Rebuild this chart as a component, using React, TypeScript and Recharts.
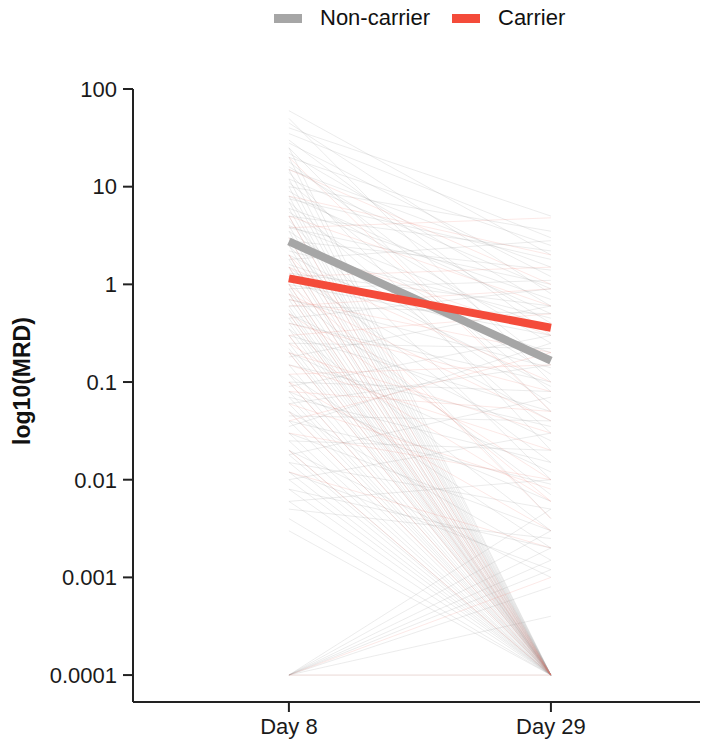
import { Line, LineChart, XAxis, YAxis } from 'recharts';

const days = ['Day 8', 'Day 29'];
const yTicks = [0.0001, 0.001, 0.01, 0.1, 1, 10, 100];

// [day 8, day 29] MRD per patient
const nonCarrierPairs: [number, number][] = [
  [0.003, 1e-4], [0.004, 1e-4], [0.006, 1e-4], [0.008, 1e-4], [0.01, 1e-4],
  [0.012, 1e-4], [0.015, 1e-4], [0.018, 1e-4], [0.02, 1e-4], [0.025, 1e-4],
  [0.03, 1e-4], [0.04, 1e-4], [0.05, 1e-4], [0.06, 1e-4], [0.07, 1e-4],
  [0.08, 1e-4], [0.1, 1e-4], [0.12, 1e-4], [0.15, 1e-4], [0.2, 1e-4],
  [0.22, 1e-4], [0.25, 1e-4], [0.3, 1e-4], [0.35, 1e-4], [0.4, 1e-4],
  [0.45, 1e-4], [0.5, 1e-4], [0.55, 1e-4], [0.6, 1e-4], [0.7, 1e-4],
  [0.8, 1e-4], [0.9, 1e-4], [1, 1e-4], [1.2, 1e-4], [1.5, 1e-4],
  [1.8, 1e-4], [2, 1e-4], [2.5, 1e-4], [3, 1e-4], [3.5, 1e-4],
  [4, 1e-4], [5, 1e-4], [6, 1e-4], [7, 1e-4], [8, 1e-4],
  [10, 1e-4], [12, 1e-4], [15, 1e-4], [20, 1e-4], [25, 1e-4],
  [1e-4, 1e-4], [1e-4, 0.0004], [1e-4, 0.0008], [1e-4, 0.0012], [1e-4, 0.0015],
  [1e-4, 0.002], [1e-4, 0.003], [1e-4, 0.005],
  [60, 2], [45, 0.8], [35, 3], [30, 0.3], [28, 1.2], [25, 0.05], [22, 0.6],
  [20, 2.5], [18, 0.15], [16, 0.4], [15, 1.5], [14, 0.02], [12, 0.9], [11, 0.08],
  [10, 3.5], [9, 0.25], [8, 0.5], [7.5, 1.8], [7, 0.03], [6, 0.7], [5.5, 0.12],
  [5, 2.2], [4.5, 0.01], [4, 0.35], [3.8, 1], [3.5, 0.06], [3, 0.18], [2.8, 1.4],
  [2.5, 0.004], [2.2, 0.45], [2, 0.09], [1.8, 2.8], [1.6, 0.2], [1.5, 0.015],
  [1.3, 0.6], [1.2, 0.04], [1, 0.3], [0.9, 1.1], [0.8, 0.007], [0.7, 0.14],
  [0.6, 0.5], [0.5, 0.025], [0.45, 0.9], [0.4, 0.1], [0.35, 0.003], [0.3, 0.05],
  [0.25, 0.22], [0.2, 0.012], [0.18, 0.6], [0.15, 0.035], [0.12, 0.002], [0.1, 0.08],
  [0.09, 0.3], [0.08, 0.006], [0.07, 0.015], [0.06, 0.15], [0.05, 0.0015], [0.045, 0.04],
  [0.04, 0.009], [0.035, 0.25], [0.03, 0.003], [0.025, 0.02], [0.02, 0.001], [0.018, 0.07],
  [0.015, 0.005], [0.012, 0.0012], [0.01, 0.03], [0.008, 0.002], [0.006, 0.01], [0.005, 0.0025],
  [40, 5], [50, 0.1],
];

const carrierPairs: [number, number][] = [
  [0.3, 1e-4], [0.8, 1e-4], [1.5, 1e-4], [2, 1e-4], [0.05, 1e-4], [0.1, 1e-4],
  [0.5, 1e-4], [3, 1e-4], [0.02, 1e-4], [5, 1e-4], [1, 1e-4], [0.2, 1e-4],
  [1e-4, 1e-4], [1e-4, 0.001],
  [3.8, 4.8], [8, 2], [5, 0.6], [2.5, 0.3], [1.5, 0.1], [1.2, 1.5], [1, 0.006],
  [0.8, 0.04], [0.7, 0.2], [0.5, 0.01], [0.4, 0.08], [0.3, 0.5], [0.25, 0.006],
  [0.15, 0.02], [0.12, 0.15], [0.1, 0.003], [0.08, 0.05], [0.06, 0.008], [0.04, 0.2],
  [0.03, 0.01], [15, 1], [20, 0.05], [2, 0.004], [0.6, 0.9], [0.2, 0.03], [0.012, 0.002],
];

const nonCarrierMean = [2.75, 0.166];
const carrierMean = [1.15, 0.36];

const toPoints = (values: number[]) => values.map((mrd, i) => ({ day: i + 1, mrd }));

const font = '"Liberation Sans", Arial, sans-serif';
const tick = { fill: '#1a1a1a', fontFamily: font, fontSize: 22 };

function YLabel() {
  return (
    <text x={30} y={381} transform="rotate(-90, 30, 381)" textAnchor="middle"
      fontFamily={font} fontSize={23} fontWeight="bold" fill="#111">
      log10(MRD)
    </text>
  );
}

function LegendItem({ color, label, left }: { color: string; label: string; left: number }) {
  return (
    <div style={{ position: 'absolute', left, top: 5, display: 'flex', alignItems: 'center' }}>
      <div style={{ width: 28, height: 9, background: color, marginRight: 18 }} />
      <span style={{ fontFamily: font, fontSize: 22, color: '#111' }}>{label}</span>
    </div>
  );
}

export default function App() {
  return (
    <div style={{ position: 'relative', width: 703, height: 741, background: '#fff' }}>
      <style>{'body{margin:0}'}</style>
      <LegendItem color="#a6a6a6" label="Non-carrier" left={274} />
      <LegendItem color="#f44b3a" label="Carrier" left={452} />
      <LineChart width={703} height={741} margin={{ top: 89, right: 3, bottom: 9, left: 0 }}>
        <XAxis type="number" dataKey="day" domain={[0.405, 2.569]} allowDataOverflow ticks={[1, 2]}
          tickFormatter={(v: number) => days[v - 1]} tick={tick} tickSize={10} tickMargin={6}
          height={30} stroke="#222" strokeWidth={2} />
        <YAxis type="number" dataKey="mrd" scale="log" domain={[5.3e-5, 100]} allowDataOverflow
          ticks={yTicks} tickFormatter={(v: number) => String(v)} tick={tick} width={133}
          tickSize={10} tickMargin={6} stroke="#222" strokeWidth={2} label={<YLabel />} />
        {nonCarrierPairs.map((p, i) => (
          <Line key={`n${i}`} data={toPoints(p)} dataKey="mrd" stroke="#9e9e9e" strokeOpacity={0.2}
            strokeWidth={1} dot={false} activeDot={false} legendType="none" isAnimationActive={false} />
        ))}
        {carrierPairs.map((p, i) => (
          <Line key={`c${i}`} data={toPoints(p)} dataKey="mrd" stroke="#ee6a60" strokeOpacity={0.15}
            strokeWidth={1} dot={false} activeDot={false} legendType="none" isAnimationActive={false} />
        ))}
        <Line data={toPoints(nonCarrierMean)} dataKey="mrd" stroke="#a6a6a6" strokeWidth={8}
          dot={false} activeDot={false} isAnimationActive={false} />
        <Line data={toPoints(carrierMean)} dataKey="mrd" stroke="#f44b3a" strokeWidth={8}
          dot={false} activeDot={false} isAnimationActive={false} />
      </LineChart>
    </div>
  );
}
